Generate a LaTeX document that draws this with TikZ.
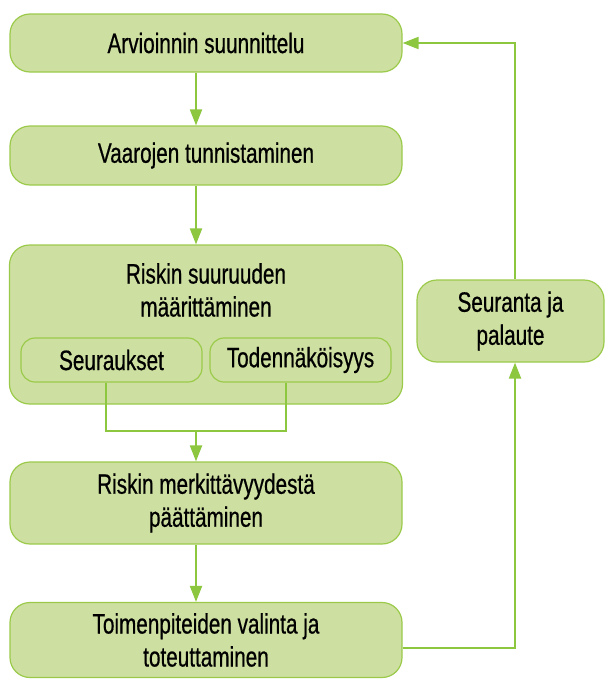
\documentclass[tikz,border=0pt]{standalone}
\usepackage{fontspec}
\setmainfont{Liberation Sans}[FakeStretch=0.74,FakeBold=0.6]
\usetikzlibrary{arrows.meta,positioning}
\definecolor{boxfill}{RGB}{206,224,161}
\definecolor{boxdraw}{RGB}{155,202,75}
\definecolor{linecol}{RGB}{141,198,63}
\tikzset{
  txt/.style={align=center, font=\fontsize{28}{33}\selectfont, inner sep=0pt},
  stepbox/.style={draw=boxdraw, fill=boxfill, line width=1.2pt, rounded corners=20pt, txt},
  subbox/.style={draw=boxdraw, fill=boxfill, line width=1.2pt, rounded corners=14pt, txt,
    minimum width=181pt, minimum height=44pt},
  conn/.style={draw=linecol, line width=2pt},
  arr/.style={conn, -{Triangle[length=16pt,width=12pt]}}
}
\begin{document}
\begin{tikzpicture}[x=1pt,y=-1pt]
\useasboundingbox (0,0) rectangle (605,680);
\node[stepbox, minimum width=392pt, minimum height=58pt] (b1) at (206,43) {Arvioinnin suunnittelu};
\node[stepbox, minimum width=392pt, minimum height=59pt] (b2) at (206,155.5) {Vaarojen tunnistaminen};
\node[stepbox, minimum width=393pt, minimum height=159pt] (b3) at (206,324.5) {};
\node[txt] (t3) at (206,290) {Riskin suuruuden\\määrittäminen};
\node[subbox] (s1) at (111.5,360) {Seuraukset};
\node[subbox] (s2) at (300.5,360) {Todennäköisyys};
\node[stepbox, minimum width=392pt, minimum height=82pt] (b4) at (206,503) {Riskin merkittävyydestä\\päättäminen};
\node[stepbox, minimum width=392pt, minimum height=75pt] (b5) at (206,640) {Toimenpiteiden valinta ja\\toteuttaminen};
\node[stepbox, minimum width=187pt, minimum height=82pt] (b6) at (510.5,321) {Seuranta ja\\palaute};
\coordinate (j) at (196,431);
\draw[arr] (b1.south -| j) -- (b2.north -| j);
\draw[arr] (b2.south -| j) -- (b3.north -| j);
\draw[conn] ([xshift=-5.5pt]s1.south) |- (j) -| ([xshift=-14.5pt]s2.south);
\draw[arr] (j) -- (b4.north -| j);
\draw[arr] (b4.south -| j) -- (b5.north -| j);
\coordinate (fb) at (515,0);
\draw[arr] ([yshift=-8pt]b5.east) -| (b6.south -| fb);
\draw[arr] (b6.north -| fb) |- (b1.east);
\end{tikzpicture}
\end{document}
